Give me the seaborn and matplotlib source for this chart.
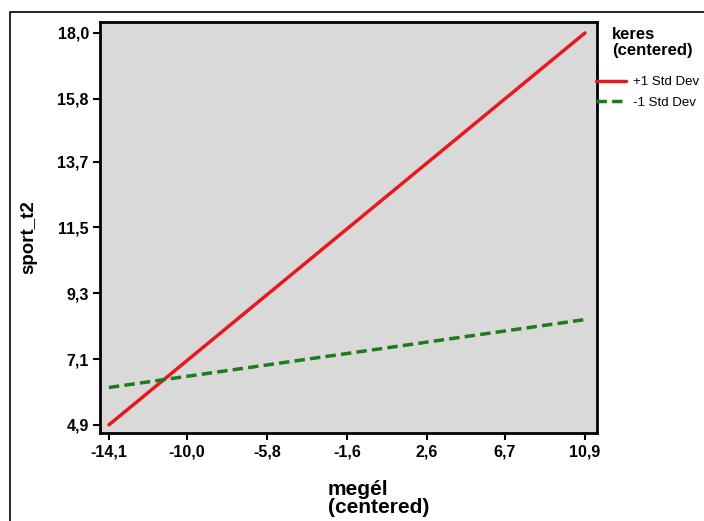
import pandas as pd
import matplotlib.pyplot as plt
import matplotlib.patches as mpatches
import seaborn as sns

sns.set_theme(style='white')
plt.rcParams['font.family'] = ['Liberation Sans', 'DejaVu Sans']
plt.rcParams['text.color'] = 'black'
plt.rcParams['axes.labelcolor'] = 'black'
plt.rcParams['xtick.color'] = 'black'
plt.rcParams['ytick.color'] = 'black'

# simple slopes: endpoints of the two lines
megel = [-14.1, 10.9]
plus_sd = [4.9, 18.0]
minus_sd = [6.15, 8.42]

xticks = [-14.1, -10.0, -5.8, -1.6, 2.6, 6.7, 10.9]
yticks = [4.9, 7.1, 9.3, 11.5, 13.7, 15.8, 18.0]

df = pd.DataFrame({
    'megel': megel + megel,
    'sport_t2': plus_sd + minus_sd,
    'keres': ['+1 Std Dev'] * 2 + ['-1 Std Dev'] * 2,
})

fig = plt.figure(figsize=(7.04, 5.21), dpi=100)
ax = fig.add_axes([0.142, 0.169, 0.706, 0.789])
ax.set_facecolor('#d9d9d9')

sns.lineplot(data=df, x='megel', y='sport_t2', hue='keres', style='keres',
             palette={'+1 Std Dev': '#e8191e', '-1 Std Dev': '#1d7a1d'},
             dashes={'+1 Std Dev': '', '-1 Std Dev': (3, 1.5)},
             linewidth=2.5, ax=ax)

ax.set_xlim(-14.57, 11.53)
ax.set_ylim(4.63, 18.37)
ax.set_xticks(xticks)
ax.set_xticklabels([f'{v:.1f}'.replace('.', ',') for v in xticks], fontweight='bold', fontsize=11.5)
ax.set_yticks(yticks)
ax.set_yticklabels([f'{v:.1f}'.replace('.', ',') for v in yticks], fontweight='bold', fontsize=11.5)
ax.tick_params(axis='both', direction='out', length=5, width=1.5, color='black',
               bottom=True, left=True, pad=3)

for s in ax.spines.values():
    s.set_color('black')
    s.set_linewidth(2)

ax.set_xlabel('megél\n(centered)', fontsize=15, fontweight='bold', linespacing=0.95,
              multialignment='left')
ax.xaxis.set_label_coords(0.561, -0.115)
ax.xaxis.label.set_verticalalignment('top')
ax.set_ylabel('sport_t2', fontsize=13.5, fontweight='bold')
ax.yaxis.set_label_coords(-0.125, 0.477)

leg = ax.legend(loc='upper left', bbox_to_anchor=(0.998, 0.868),
                frameon=False, fontsize=9.5, handlelength=2.3, handletextpad=0.5,
                labelspacing=0.6, borderaxespad=0.0, borderpad=0.0)

fig.text(612 / 704, 1 - 27 / 521, 'keres\n(centered)', fontsize=12, fontweight='bold',
         ha='left', va='top', linespacing=1.1)

# outer frame
fig.patches.append(mpatches.Rectangle((10 / 704, -0.1), 1.2, 1.1 - 12 / 521,
                                      transform=fig.transFigure, fill=False,
                                      edgecolor='black', linewidth=1.2))

fig.savefig('out.png', dpi=100)
